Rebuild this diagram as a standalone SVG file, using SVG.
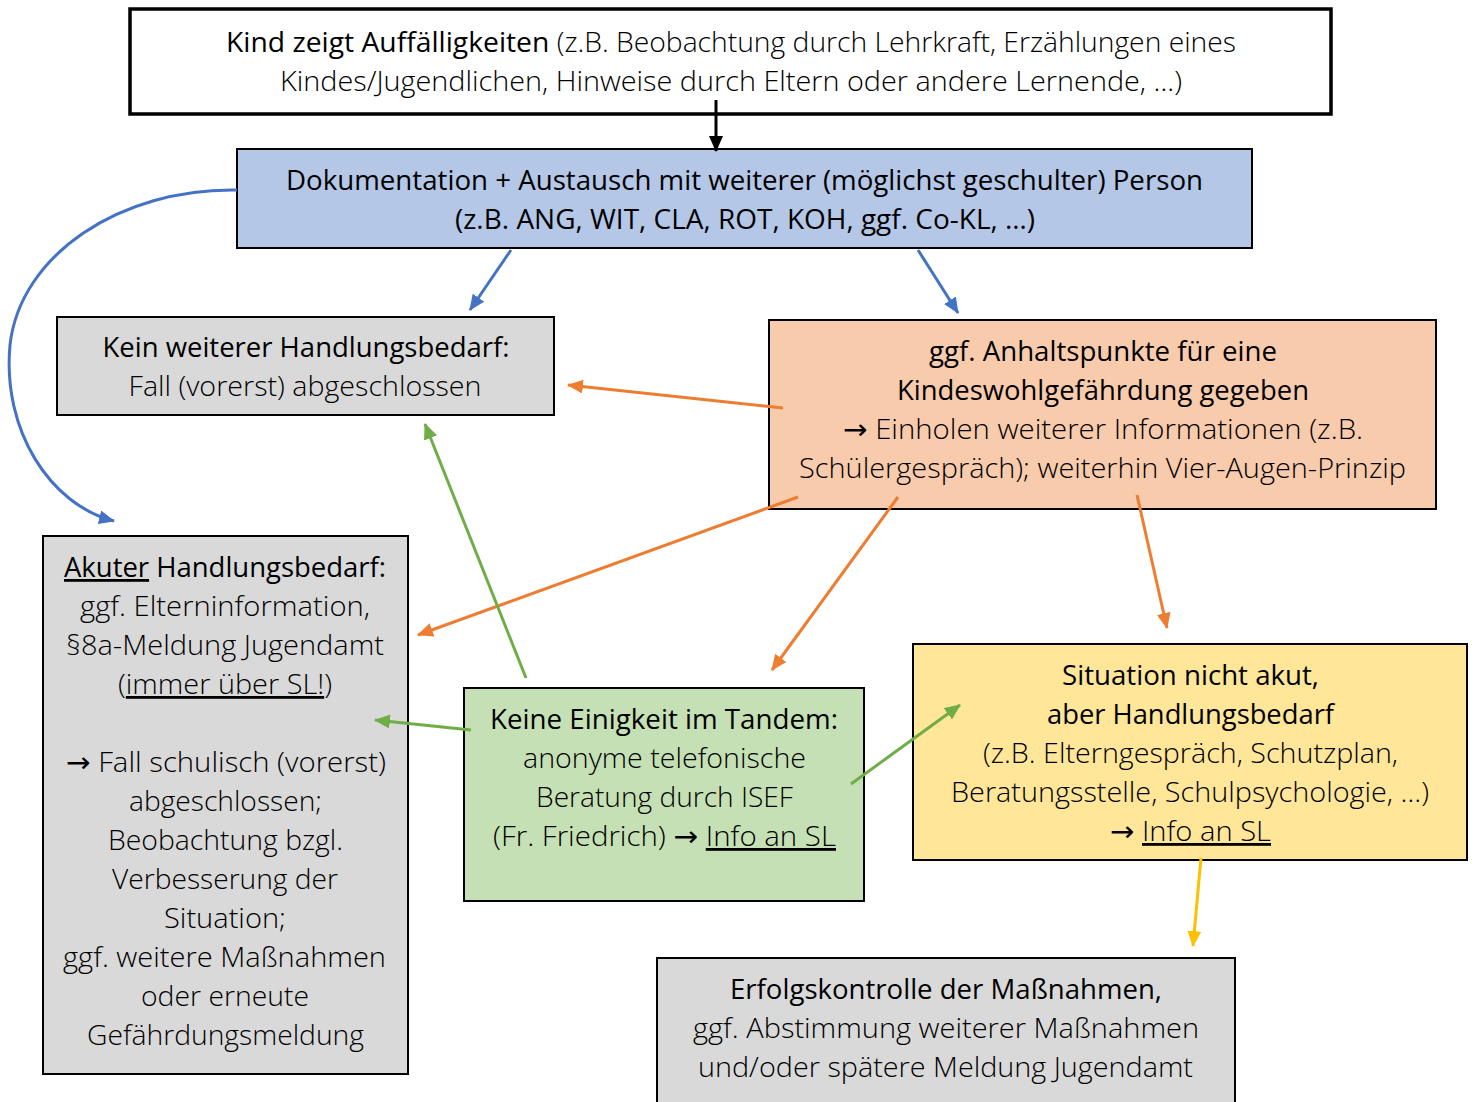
<svg xmlns="http://www.w3.org/2000/svg" width="1475" height="1102" viewBox="0 0 1475 1102">
<style>
text{font-family:"Open Sans","Noto Sans","DejaVu Sans",sans-serif;font-size:28px;fill:#000;text-anchor:middle;font-weight:300}
.b{font-weight:400}
.u{text-decoration:underline}
.box{stroke:#000;stroke-width:2}
.c{fill:none;stroke-width:3}
</style>
<defs>
<marker id="mk" markerUnits="userSpaceOnUse" markerWidth="16" markerHeight="14" refX="15" refY="7" orient="auto"><path d="M0,0 L16,7 L0,14 Z" fill="#000"/></marker>
<marker id="mb" markerUnits="userSpaceOnUse" markerWidth="16" markerHeight="14" refX="15" refY="7" orient="auto"><path d="M0,0 L16,7 L0,14 Z" fill="#4472c4"/></marker>
<marker id="mo" markerUnits="userSpaceOnUse" markerWidth="16" markerHeight="14" refX="15" refY="7" orient="auto"><path d="M0,0 L16,7 L0,14 Z" fill="#ed7d31"/></marker>
<marker id="mg" markerUnits="userSpaceOnUse" markerWidth="16" markerHeight="14" refX="15" refY="7" orient="auto"><path d="M0,0 L16,7 L0,14 Z" fill="#70ad47"/></marker>
<marker id="my" markerUnits="userSpaceOnUse" markerWidth="16" markerHeight="14" refX="15" refY="7" orient="auto"><path d="M0,0 L16,7 L0,14 Z" fill="#ffc000"/></marker>
</defs>
<rect width="1475" height="1102" fill="#fff"/>

<g id="n1">
<rect x="130" y="9" width="1201" height="105" fill="#fff" stroke="#000" stroke-width="3.5"/>
<text x="731" y="52" textLength="1010" lengthAdjust="spacingAndGlyphs"><tspan class="b">Kind zeigt Auffälligkeiten</tspan> (z.B. Beobachtung durch Lehrkraft, Erzählungen eines</text>
<text x="731" y="91" textLength="902" lengthAdjust="spacingAndGlyphs">Kindes/Jugendlichen, Hinweise durch Eltern oder andere Lernende, …)</text>
</g>

<g id="n2">
<rect x="237" y="149" width="1015" height="99" fill="#b4c7e7" class="box"/>
<text class="b" x="744.5" y="190" textLength="917" lengthAdjust="spacingAndGlyphs">Dokumentation + Austausch mit weiterer (möglichst geschulter) Person</text>
<text class="b" x="745" y="229" textLength="580" lengthAdjust="spacingAndGlyphs">(z.B. ANG, WIT, CLA, ROT, KOH, ggf. Co-KL, …)</text>
</g>

<g id="n3">
<rect x="57" y="317" width="497" height="98" fill="#d9d9d9" class="box"/>
<text class="b" x="306" y="357" textLength="407" lengthAdjust="spacingAndGlyphs">Kein weiterer Handlungsbedarf:</text>
<text x="305" y="396" textLength="353" lengthAdjust="spacingAndGlyphs">Fall (vorerst) abgeschlossen</text>
</g>

<g id="n4">
<rect x="769" y="320" width="667" height="189" fill="#f8cbad" class="box"/>
<text class="b" x="1103" y="361" textLength="348" lengthAdjust="spacingAndGlyphs">ggf. Anhaltspunkte für eine</text>
<text class="b" x="1103" y="400" textLength="412" lengthAdjust="spacingAndGlyphs">Kindeswohlgefährdung gegeben</text>
<text x="1103" y="439" textLength="520" lengthAdjust="spacingAndGlyphs"><tspan class="b">→</tspan> Einholen weiterer Informationen (z.B.</text>
<text x="1102.5" y="478" textLength="607" lengthAdjust="spacingAndGlyphs">Schülergespräch); weiterhin Vier-Augen-Prinzip</text>
</g>

<g id="n5">
<rect x="43" y="536" width="365" height="538" fill="#d9d9d9" class="box"/>
<text x="225" y="577" textLength="322" lengthAdjust="spacingAndGlyphs"><tspan class="b u">Akuter</tspan><tspan class="b"> Handlungsbedarf:</tspan></text>
<text x="225" y="616" textLength="290" lengthAdjust="spacingAndGlyphs">ggf. Elterninformation,</text>
<text x="225" y="655" textLength="318" lengthAdjust="spacingAndGlyphs">§8a-Meldung Jugendamt</text>
<text x="225" y="694" textLength="214" lengthAdjust="spacingAndGlyphs">(<tspan class="u">immer über SL!</tspan>)</text>
<text x="226" y="772" textLength="320" lengthAdjust="spacingAndGlyphs"><tspan class="b">→</tspan> Fall schulisch (vorerst)</text>
<text x="225.5" y="811" textLength="193" lengthAdjust="spacingAndGlyphs">abgeschlossen;</text>
<text x="225.5" y="850" textLength="235" lengthAdjust="spacingAndGlyphs">Beobachtung bzgl.</text>
<text x="225" y="889" textLength="226" lengthAdjust="spacingAndGlyphs">Verbesserung der</text>
<text x="225" y="928" textLength="122" lengthAdjust="spacingAndGlyphs">Situation;</text>
<text x="224.5" y="967" textLength="323" lengthAdjust="spacingAndGlyphs">ggf. weitere Maßnahmen</text>
<text x="225" y="1006" textLength="168" lengthAdjust="spacingAndGlyphs">oder erneute</text>
<text x="225.5" y="1045" textLength="277" lengthAdjust="spacingAndGlyphs">Gefährdungsmeldung</text>
</g>

<g id="n6">
<rect x="464" y="688" width="400" height="213" fill="#c5e0b4" class="box"/>
<text class="b" x="664" y="729" textLength="348" lengthAdjust="spacingAndGlyphs">Keine Einigkeit im Tandem:</text>
<text x="664.5" y="768" textLength="283" lengthAdjust="spacingAndGlyphs">anonyme telefonische</text>
<text x="664.5" y="807" textLength="257" lengthAdjust="spacingAndGlyphs">Beratung durch ISEF</text>
<text x="664.5" y="846" textLength="343" lengthAdjust="spacingAndGlyphs">(Fr. Friedrich) <tspan class="b">→</tspan> <tspan class="u">Info an SL</tspan></text>
</g>

<g id="n7">
<rect x="913" y="644" width="554" height="216" fill="#ffe699" class="box"/>
<text class="b" x="1190.5" y="685" textLength="257" lengthAdjust="spacingAndGlyphs">Situation nicht akut,</text>
<text class="b" x="1190.5" y="724" textLength="287" lengthAdjust="spacingAndGlyphs">aber Handlungsbedarf</text>
<text x="1190.5" y="763" textLength="415" lengthAdjust="spacingAndGlyphs">(z.B. Elterngespräch, Schutzplan,</text>
<text x="1190" y="802" textLength="478" lengthAdjust="spacingAndGlyphs">Beratungsstelle, Schulpsychologie, …)</text>
<text x="1190.5" y="841" textLength="161" lengthAdjust="spacingAndGlyphs"><tspan class="b">→</tspan> <tspan class="u">Info an SL</tspan></text>
</g>

<g id="n8">
<rect x="657" y="958" width="578" height="160" fill="#d9d9d9" class="box"/>
<text class="b" x="946" y="999" textLength="432" lengthAdjust="spacingAndGlyphs">Erfolgskontrolle der Maßnahmen,</text>
<text x="946" y="1038" textLength="506" lengthAdjust="spacingAndGlyphs">ggf. Abstimmung weiterer Maßnahmen</text>
<text x="945.5" y="1077" textLength="495" lengthAdjust="spacingAndGlyphs">und/oder spätere Meldung Jugendamt</text>
</g>

<g id="connectors">
<path class="c" d="M716,100 L716,151" stroke="#000" marker-end="url(#mk)"/>
<path class="c" d="M511,250 L470,310" stroke="#4472c4" marker-end="url(#mb)"/>
<path class="c" d="M918,250 L958,313" stroke="#4472c4" marker-end="url(#mb)"/>
<path class="c" d="M237,190 C120,188 20,255 10,345 C2,430 50,505 114,521" stroke="#4472c4" marker-end="url(#mb)"/>
<path class="c" d="M783,408 L568,385" stroke="#ed7d31" marker-end="url(#mo)"/>
<path class="c" d="M798,497 L418,635" stroke="#ed7d31" marker-end="url(#mo)"/>
<path class="c" d="M898,497 L772,670" stroke="#ed7d31" marker-end="url(#mo)"/>
<path class="c" d="M1137,495 L1167,628" stroke="#ed7d31" marker-end="url(#mo)"/>
<path class="c" d="M526,678 L425,424" stroke="#70ad47" marker-end="url(#mg)"/>
<path class="c" d="M471,730 L375,720" stroke="#70ad47" marker-end="url(#mg)"/>
<path class="c" d="M851,784 L960,705" stroke="#70ad47" marker-end="url(#mg)"/>
<path class="c" d="M1201,858 L1193,946" stroke="#ffc000" marker-end="url(#my)"/>
</g>
</svg>
